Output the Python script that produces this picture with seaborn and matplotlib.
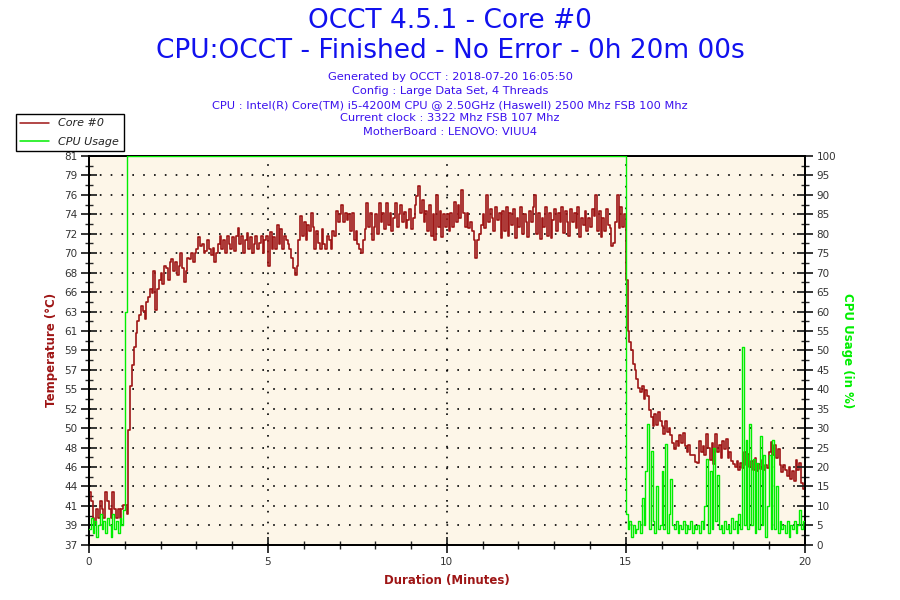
import matplotlib
matplotlib.use('Agg')
import matplotlib.pyplot as plt
import numpy as np
import pandas as pd
import seaborn as sns
from matplotlib.lines import Line2D
from matplotlib.ticker import FixedLocator

# sampling grid: one reading every 0.05 min (3 s), 0 .. 20 min
minutes = np.round(np.arange(0, 20.001, 0.05), 2)

# Core #0 temperature (deg C), one row per minute (20 readings each)
temp_m0 = [43, 42, 40, 39.5, 41, 40, 42, 41, 40, 43, 42, 41, 40, 43, 41, 40, 41, 40, 41, 41.5]
temp_m1 = [41.5, 40.5, 50, 55, 57.4, 59.4, 61, 62.3, 63, 64, 63.5, 62.5, 64.5, 65, 66, 65.5, 68, 63.6, 66, 67]
temp_m2 = [67.8, 66.5, 68.5, 68.3, 67, 69, 69.3, 68, 69, 67.5, 68.5, 70, 68.3, 66.7, 68, 69.5, 69.3, 70, 69, 70]
temp_m3 = [70.5, 71.8, 70.8, 71, 70, 70.3, 71.5, 70.5, 69.8, 70.6, 69, 70, 71, 72, 70.5, 71.5, 70, 72, 71, 70.5]
temp_m4 = [71.8, 70.3, 72, 72.8, 71, 72, 70, 71.5, 72.3, 70.5, 71.8, 70, 71, 72, 70.5, 71.2, 72, 70, 71.5, 72]
temp_m5 = [68.5, 72.4, 70.5, 71.8, 70.5, 73.2, 71, 72.7, 70.5, 72, 71.5, 71, 70.5, 69.5, 68.3, 67.5, 68.5, 71.5, 74.2, 72]
temp_m6 = [73.5, 71.5, 73.2, 72.5, 74.5, 73, 70.5, 72.5, 71.2, 70.5, 72.7, 71, 70.5, 72, 71.5, 70.5, 72.5, 72, 74.8, 73.5]
temp_m7 = [74.4, 75.5, 73.5, 74.5, 73.8, 74.4, 72.5, 74.5, 71.5, 72.5, 71, 70.5, 70, 71.5, 72.7, 75.7, 73, 74.5, 71.5, 73]
temp_m8 = [74.4, 72.2, 75.7, 73.5, 74.5, 72.7, 75.7, 73.2, 74.5, 72.5, 74, 75.7, 73, 74.4, 75.5, 73.5, 74.7, 72.8, 73.8, 75]
temp_m9 = [72.7, 74, 75.5, 76.5, 77.6, 74.5, 76, 73.5, 74.8, 72.5, 75.5, 72, 74.4, 71.5, 76.6, 73, 74.8, 71.8, 74.4, 73]
temp_m10 = [74.4, 72.5, 74.5, 73, 75.8, 73.5, 75.5, 74, 77.2, 74.5, 73, 74.5, 72.8, 73.5, 72.5, 71.5, 69.5, 71.5, 72.2, 73.2]
temp_m11 = [74.4, 72.8, 76.6, 73.5, 75, 74, 72.5, 75.2, 73.8, 74.5, 71.7, 74.8, 72.5, 75.2, 72, 74.5, 73.2, 75, 71.7, 74]
temp_m12 = [73, 75.2, 72.2, 74.4, 73.5, 71.8, 74.8, 73.5, 75.2, 76.6, 72.2, 74.5, 71.6, 74, 73, 75.2, 72, 74.5, 71.7, 73.8]
temp_m13 = [75, 72.5, 74.5, 73.5, 75.2, 72.3, 74.8, 73.5, 72, 75, 73.5, 74.5, 72.8, 75.2, 71.8, 74, 73.2, 74.8, 72.5, 74]
temp_m14 = [73, 75, 74.2, 76.6, 72.5, 74.8, 71.8, 74, 72.5, 75, 73.2, 72.8, 70.8, 71.2, 73.5, 76.6, 72.8, 75.2, 73, 74.4]
temp_m15 = [67, 61.2, 60, 59, 57.5, 56.8, 55.8, 54.8, 54.3, 55, 53.5, 54.5, 53.8, 52.2, 51.5, 50.5, 51.8, 50.6, 52, 51]
temp_m16 = [50.5, 49.5, 51, 49.8, 50.2, 49.4, 48.5, 47.8, 48.8, 48.2, 49.4, 48.5, 49.6, 48.2, 47.5, 48.3, 47.2, 47.2, 47.2, 46.4]
temp_m17 = [46.3, 48.8, 47.5, 48.2, 47.2, 49.5, 48, 46.6, 48.5, 46.2, 49.5, 47.5, 48.3, 46.8, 48.8, 47.8, 49, 46.8, 47.5, 46.5]
temp_m18 = [46.2, 45.8, 46.5, 45.5, 46.3, 45.7, 47.5, 46, 47.3, 45.8, 46.5, 45.5, 46.8, 45.3, 46.2, 45.6, 46.6, 45.5, 46, 45.7]
temp_m19 = [47.5, 48.6, 47.2, 48.3, 46.8, 47.8, 46, 45.2, 46, 45.5, 44.8, 45.8, 44.5, 45.4, 44.2, 46.6, 45.5, 46.3, 44, 43.3]
temp_end = [44]

# CPU usage (%)
cpu_m0 = [4, 7, 3, 6, 2, 5, 8, 4, 6, 3, 7, 5, 2, 8, 4, 6, 3, 7, 5, 9]
cpu_m1 = [60] + [100] * 19
cpu_full_load = [100] * (20 * 13)  # minutes 2 .. 14
cpu_m15 = [8, 4, 6, 2, 5, 3, 4, 6, 3, 12, 5, 19, 31, 4, 24, 6, 3, 15, 4, 5]
cpu_m16 = [19, 4, 26, 3, 8, 17, 5, 4, 6, 3, 5, 4, 6, 3, 5, 4, 6, 3, 5, 4]
cpu_m17 = [5, 3, 6, 4, 10, 22, 3, 19, 4, 25, 6, 18, 4, 5, 3, 6, 4, 5, 3, 7]
cpu_m18 = [4, 6, 3, 8, 4, 51, 5, 27, 4, 31, 5, 22, 3, 21, 4, 28, 5, 23, 2, 10]
cpu_m19 = [23, 4, 27, 4, 15, 3, 6, 4, 5, 3, 6, 2, 5, 4, 6, 3, 5, 9, 4, 6]
cpu_end = [5]

temp_tick_labels = ['37', '39', '41', '44', '46', '48', '50', '52', '55', '57', '59',
                    '61', '63', '66', '68', '70', '72', '74', '76', '79', '81']

temp = (temp_m0 + temp_m1 + temp_m2 + temp_m3 + temp_m4 + temp_m5 + temp_m6 + temp_m7
        + temp_m8 + temp_m9 + temp_m10 + temp_m11 + temp_m12 + temp_m13 + temp_m14
        + temp_m15 + temp_m16 + temp_m17 + temp_m18 + temp_m19 + temp_end)
cpu = (cpu_m0 + cpu_m1 + cpu_full_load + cpu_m15 + cpu_m16 + cpu_m17 + cpu_m18
       + cpu_m19 + cpu_end)

df = pd.DataFrame({'minutes': minutes, 'temp': temp, 'cpu': cpu})

RED = '#9e1515'
GREEN = '#00ee00'
BLUE = '#1111ee'
SMALL_BLUE = '#3a10ee'

sns.set_style('ticks')
plt.rcParams['font.family'] = ['DejaVu Sans']

fig = plt.figure(figsize=(9, 6), dpi=100)
ax = fig.add_axes([0.099, 0.092, 0.795, 0.648])
ax.set_facecolor('#fdf6e8')

# dotted grid
grid_style = dict(color='black', linestyle=(0, (1, 5.5)), linewidth=1.2, zorder=1)
temp_ticks = np.linspace(37, 81, 21)
for yv in temp_ticks[1:-1]:
    ax.axhline(yv, **grid_style)
for xv in [5, 10, 15]:
    ax.axvline(xv, **grid_style)

sns.lineplot(data=df, x='minutes', y='temp', ax=ax, color=RED, linewidth=1.2,
             drawstyle='steps-post', estimator=None, errorbar=None, legend=False, zorder=3)

ax2 = ax.twinx()
sns.lineplot(data=df, x='minutes', y='cpu', ax=ax2, color=GREEN, linewidth=1.0,
             drawstyle='steps-post', estimator=None, errorbar=None, legend=False, zorder=3)

ax.set_xlim(0, 20)
ax.set_ylim(37, 81)
ax2.set_ylim(0, 100)

ax.set_xticks([0, 5, 10, 15, 20])
ax.xaxis.set_minor_locator(FixedLocator(range(21)))
ax.set_yticks(temp_ticks)
ax.set_yticklabels(temp_tick_labels)
ax.yaxis.set_minor_locator(FixedLocator((temp_ticks[:-1] + temp_ticks[1:]) / 2))
ax2.set_yticks(range(0, 101, 5))
ax2.yaxis.set_minor_locator(FixedLocator(np.arange(2.5, 100, 5)))

for a in (ax, ax2):
    a.tick_params(which='major', direction='inout', length=11, width=1.3,
                  labelsize=7.5, labelcolor='#333333', pad=3)
    a.tick_params(which='minor', direction='inout', length=6, width=1.0)
    for s in a.spines.values():
        s.set_color('black')
        s.set_linewidth(1.3)
ax.tick_params(axis='x', pad=3)

ax.set_xlabel('Duration (Minutes)', color=RED, fontweight='bold', fontsize=8.5, labelpad=5)
ax.set_ylabel('Temperature (°C)', color=RED, fontweight='bold', fontsize=8.5, labelpad=4)
ax2.set_ylabel('CPU Usage (in %)', color=GREEN, fontweight='bold', fontsize=8.5,
               rotation=270, labelpad=13)

# header texts
fig.text(0.5, 1 - 21 / 600, 'OCCT 4.5.1 - Core #0', ha='center', va='center',
         fontsize=19, color=BLUE)
fig.text(0.5, 1 - 51 / 600, 'CPU:OCCT - Finished - No Error - 0h 20m 00s',
         ha='center', va='center', fontsize=19, color=BLUE)
info_lines = ['Generated by OCCT : 2018-07-20 16:05:50',
              'Config : Large Data Set, 4 Threads',
              'CPU : Intel(R) Core(TM) i5-4200M CPU @ 2.50GHz (Haswell) 2500 Mhz FSB 100 Mhz',
              'Current clock : 3322 Mhz FSB 107 Mhz',
              'MotherBoard : LENOVO: VIUU4']
for i, line in enumerate(info_lines):
    fig.text(0.5, 1 - (77 + i * 13.8) / 600, line, ha='center', va='center',
             fontsize=8.2, color=SMALL_BLUE)

handles = [Line2D([], [], color=RED, lw=1.1), Line2D([], [], color=GREEN, lw=1.1)]
leg = fig.legend(handles, ['Core #0', 'CPU Usage'], loc='upper left',
                 bbox_to_anchor=(16 / 900, 1 - 114 / 600), frameon=True, fancybox=False,
                 framealpha=1, edgecolor='black', handlelength=2.6, borderpad=0.4,
                 labelspacing=0.75, handletextpad=0.8, borderaxespad=0,
                 prop={'style': 'italic', 'size': 8})
leg.get_frame().set_linewidth(1.0)
for t in leg.get_texts():
    t.set_color('#222222')

fig.savefig('out.png', dpi=100, facecolor='white')
